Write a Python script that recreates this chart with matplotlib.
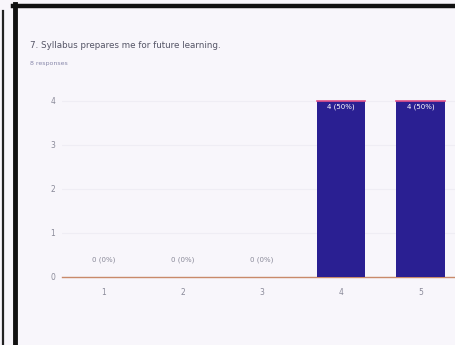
import matplotlib.pyplot as plt
from matplotlib.lines import Line2D

categories = ["1", "2", "3", "4", "5"]
counts = [0, 0, 0, 4, 4]
labels = ["0 (0%)", "0 (0%)", "0 (0%)", "4 (50%)", "4 (50%)"]
yticks = [0, 1, 2, 3, 4]

W, H = 456, 345
fig = plt.figure(figsize=(W / 100, H / 100), dpi=100, facecolor="#f8f6fb")

# scan frame (double black border on the left, one on top)
fig.add_artist(Line2D([3 / W, 3 / W], [0, 1 - 11 / H], color="#222222", lw=1.6))
fig.add_artist(Line2D([15 / W, 15 / W], [0, 1 - 4 / H], color="#111111", lw=3.5))
fig.add_artist(Line2D([13 / W, 1], [1 - 6 / H, 1 - 6 / H], color="#111111", lw=3.2))

fig.text(30 / W, 1 - 46 / H, "7. Syllabus prepares me for future learning.",
         fontsize=6.3, color="#555566", va="center")
fig.text(30 / W, 1 - 64 / H, "8 responses", fontsize=4.5, color="#8888aa",
         va="center")

ax = fig.add_axes([62 / W, 1 - 277 / H, 1 - 62 / W, 4.2 * 44 / H])
ax.set_facecolor("none")
x = list(range(1, len(categories) + 1))
bars = ax.bar(x, counts, width=0.61, color="#2a1f92", edgecolor="none", zorder=3)
for b, c in zip(bars, counts):
    if c > 0:
        ax.plot([b.get_x(), b.get_x() + b.get_width()], [c, c], color="#e0508a",
                lw=1.2, zorder=4)

for xi, c, lab in zip(x, counts, labels):
    if c > 0:
        ax.text(xi, c - 0.12, lab, ha="center", va="center", color="white",
                fontsize=5, zorder=5)
    else:
        ax.text(xi, 0.4, lab, ha="center", va="center", color="#8a8a99",
                fontsize=5, zorder=5)

ax.set_xlim(0.48, 5.45)
ax.set_ylim(0, 4.2)
ax.set_xticks(x)
ax.set_xticklabels(categories)
ax.set_yticks(yticks)
ax.tick_params(axis="y", length=0, labelsize=5.5, colors="#8a8a99", pad=5)
ax.tick_params(axis="x", length=0, labelsize=5.5, colors="#8a8a99", pad=8)
ax.grid(axis="y", color="#efedf4", lw=0.8, zorder=0)
for s in ["top", "right", "left"]:
    ax.spines[s].set_visible(False)
ax.spines["bottom"].set_color("#c98a6a")
ax.spines["bottom"].set_linewidth(1.0)

fig.savefig("out.png", dpi=100, facecolor=fig.get_facecolor())
